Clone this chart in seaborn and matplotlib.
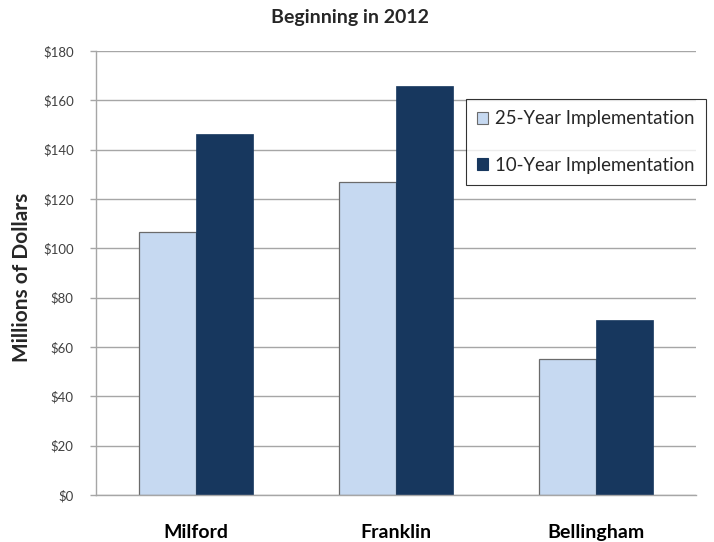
import matplotlib
matplotlib.use("Agg")
import matplotlib.pyplot as plt
import seaborn as sns
import pandas as pd
from matplotlib.patches import Patch

towns = ["Milford", "Franklin", "Bellingham"]
series_names = ["25-Year Implementation", "10-Year Implementation"]
vals_25 = [106.5, 127, 55.3]
vals_10 = [146.3, 166, 70.8]
yticks = [0, 20, 40, 60, 80, 100, 120, 140, 160, 180]
ytick_labels = ["$" + str(v) for v in yticks]

df = pd.DataFrame({
    "town": towns * 2,
    "series": [series_names[0]] * 3 + [series_names[1]] * 3,
    "value": vals_25 + vals_10,
})

sns.set_theme(style="white")
plt.rcParams["font.family"] = ["Lato", "DejaVu Sans"]

fig = plt.figure(figsize=(7.14, 5.42), dpi=100)
ax = fig.add_axes([96/714, 47/542, 600/714, 444/542])

colors = {series_names[0]: "#C6D9F1", series_names[1]: "#17375E"}
sns.barplot(data=df, x="town", y="value", hue="series", palette=colors,
            width=0.57, gap=0, ax=ax, legend=False, saturation=1,
            order=towns, hue_order=series_names)

for p in ax.patches:
    fc = p.get_facecolor()
    if fc[0] > 0.5:
        p.set_edgecolor("#6b6b6b")
        p.set_linewidth(0.9)
    else:
        p.set_edgecolor("#17375E")
        p.set_linewidth(0.5)

ax.set_ylim(0, 180)
ax.set_xlim(-0.5, 2.5)
ax.set_yticks(yticks)
ax.set_yticklabels(ytick_labels, fontsize=9.5, color="#404040")
ax.set_axisbelow(True)
ax.yaxis.grid(True, color="#a6a6a6", linewidth=1)
ax.xaxis.grid(False)
for s in ["top", "right"]:
    ax.spines[s].set_visible(False)
for s in ["left", "bottom"]:
    ax.spines[s].set_color("#a6a6a6")
    ax.spines[s].set_linewidth(1)
ax.tick_params(axis="y", length=4, width=1, color="#a6a6a6", direction="out", pad=12, left=True)
ax.tick_params(axis="x", length=0, pad=21)
for lbl in ax.get_xticklabels():
    lbl.set_fontsize(14)
    lbl.set_fontweight("bold")
    lbl.set_color("black")
ax.set_xlabel("")
ax.set_ylabel("")
fig.text(22/714, 1 - 277/542, "Millions of Dollars", rotation=90, ha="center", va="center",
         fontsize=15, fontweight="bold")
fig.text(350/714, 1 - 18/542, "Beginning in 2012", ha="center", va="center",
         fontsize=14, fontweight="bold")

handles = [Patch(facecolor=colors[n], edgecolor="#6b6b6b" if i == 0 else colors[n], linewidth=0.8)
           for i, n in enumerate(series_names)]
leg = fig.legend(handles, series_names, loc="upper left",
                 bbox_to_anchor=(466/714, 1 - 99/542), fontsize=13.4,
                 frameon=True, fancybox=False, edgecolor="black",
                 handlelength=0.6, handleheight=0.6, handletextpad=0.35,
                 labelspacing=1.6, borderpad=0.6, borderaxespad=0)
leg.get_frame().set_linewidth(0.8)

fig.savefig("out.png", dpi=100)
